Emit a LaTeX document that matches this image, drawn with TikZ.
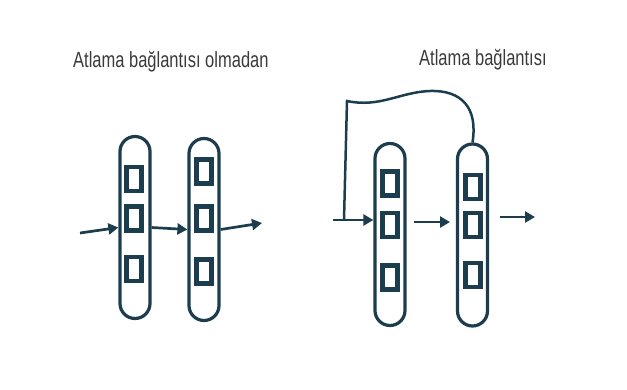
\documentclass[tikz,border=0pt]{standalone}
\usepackage{fontspec}
\setmainfont[FakeStretch=0.75]{Liberation Sans}
\usetikzlibrary{arrows.meta}
\definecolor{ink}{HTML}{1C3D4D}
\definecolor{caption}{HTML}{3A3A3A}
\tikzset{
  capsule/.style={draw=ink, line width=3.2pt, rectangle, rounded corners=15pt,
    minimum width=30pt, minimum height=182pt, inner sep=0pt},
  cell/.style={draw=ink, line width=4.5pt, rectangle, minimum width=15pt,
    minimum height=24pt, inner sep=0pt},
  arr/.style={draw=ink, line width=2.7pt, -{Triangle[length=10pt,width=11pt]}},
  skipline/.style={draw=ink, line width=2.5pt},
  title/.style={text=caption, font=\fontsize{22}{26}\selectfont, inner sep=0pt, anchor=base west}
}
\begin{document}
\begin{tikzpicture}[x=1pt, y=-1pt]
\useasboundingbox (0,0) rectangle (627,389);

% titles
\node[title] (t1) at (73,67) {Atlama bağlantısı olmadan};
\node[title] (t2) at (419,65) {Atlama bağlantısı};

% plain network: two layers
\node[capsule] (c1) at (135,227.5) {};
\node[capsule] (c2) at (204,229.5) {};
\node[cell] (c1a) at (134,179) {};
\node[cell] (c1b) at (134,218.5) {};
\node[cell] (c1c) at (134,269) {};
\node[cell] (c2a) at (204,171.5) {};
\node[cell] (c2b) at (204,218.5) {};
\node[cell] (c2c) at (204,271.5) {};

\coordinate (in1) at (80,233);
\coordinate (out1) at (262,223);
\draw[arr] (in1) -- (c1.west);
\draw[arr] (c1.east) -- (c2.west);
\draw[arr] (c2.east) -- (out1);

% network with a skip connection
\node[capsule] (c3) at (390,234.5) {};
\node[capsule] (c4) at (472.5,235) {};
\node[cell] (c3a) at (390,183.5) {};
\node[cell] (c3b) at (390,225) {};
\node[cell] (c3c) at (390,277.5) {};
\node[cell] (c4a) at (473,187) {};
\node[cell] (c4b) at (473,225) {};
\node[cell] (c4c) at (473,275) {};

\coordinate (in2) at (333,220);
\coordinate (corner) at (347,101);
\coordinate (join) at (344,220);
\coordinate (mid1) at (405,222);
\coordinate (mid2) at (450,222);
\coordinate (out2) at (535,217);

\draw[skipline] (c4.north) .. controls (478,108) and (462,90) .. (430,91)
  .. controls (400,92) and (380,108) .. (corner) -- (join);
\draw[arr] (in2) -- (in2 -| c3.west);
\draw[arr, shorten <=9pt] (mid1) -- (mid2);
\draw[arr, shorten <=11pt] (c4.east |- out2) -- (out2);
\end{tikzpicture}
\end{document}
